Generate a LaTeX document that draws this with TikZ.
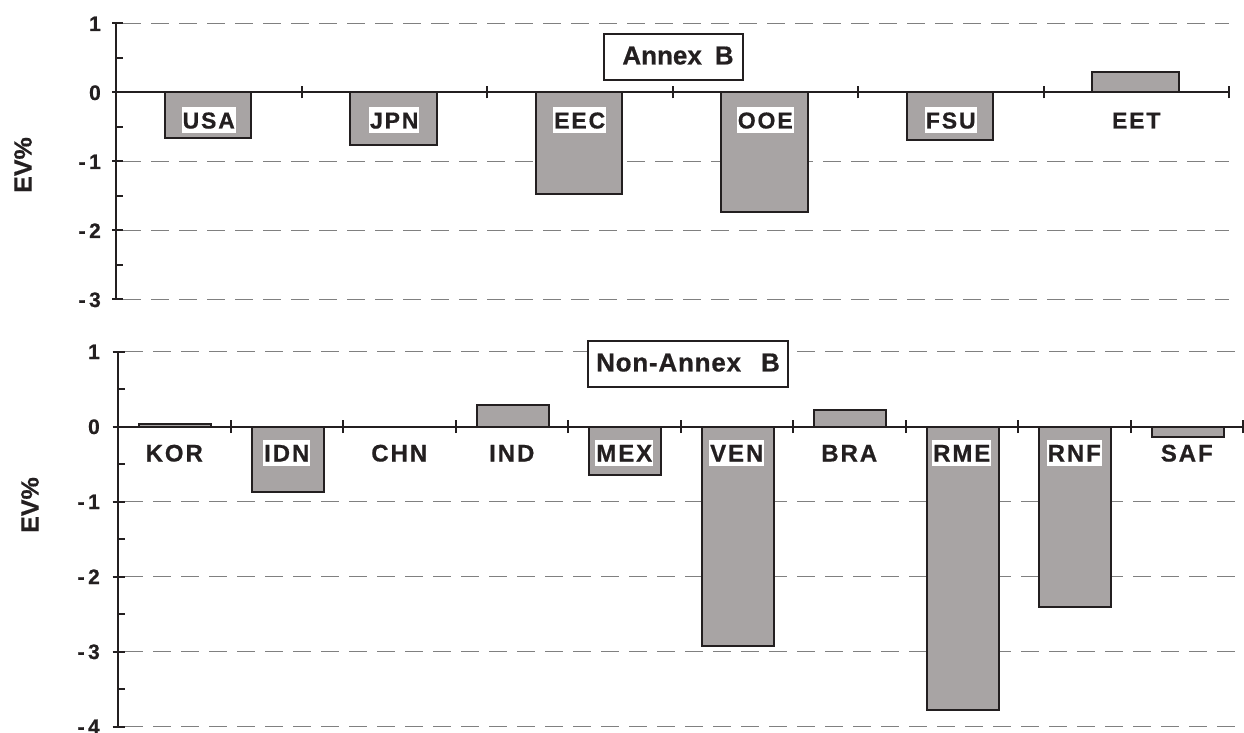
\documentclass[tikz,border=0pt]{standalone}
\usepackage{fontspec}
\setmainfont[BoldFeatures={FakeBold=0.6}]{Liberation Sans}
\newfontfamily\labfont[LetterSpace=8,BoldFeatures={FakeBold=0.6}]{Liberation Sans}
\newfontfamily\titfont[LetterSpace=3,BoldFeatures={FakeBold=0.6}]{Liberation Sans}
\definecolor{barfill}{HTML}{A8A4A4}
\definecolor{ink}{HTML}{231F20}
\definecolor{gridc}{HTML}{808080}
\tikzset{
  bar/.style={draw=ink, fill=barfill, line width=2pt},
  axisline/.style={draw=ink, line width=2pt},
  gridline/.style={draw=gridc, line width=1.5pt, dash pattern=on 18pt off 10pt},
  catlab/.style={fill=white, inner xsep=1pt, inner ysep=0pt, text height=21.5pt, text depth=4.5pt, text=ink},
  ticklab/.style={anchor=east, inner sep=0pt, text height=15pt, text depth=0pt, font=\bfseries\fontsize{21}{25}\selectfont, text=ink},
  evlab/.style={rotate=90, inner sep=0pt, font=\bfseries\fontsize{25}{30}\selectfont, text=ink},
  titlebox/.style={draw=ink, line width=1.2pt, fill=white, minimum height=46pt, inner sep=0pt, text depth=3pt, text=ink}
}
\begin{document}
\begin{tikzpicture}[x=1pt,y=1pt]
\useasboundingbox (0,0) rectangle (1244,732);
% ---------------- top panel: Annex B ----------------
\begin{scope}[shift={(116pt,639.5pt)}, x=185.5pt, y=69pt]
  \foreach \v in {1,-1,-2,-3}
    \draw[gridline] ([xshift=7pt]0,\v) -- (6,\v);
  \foreach \i/\v in {1/-0.655, 2/-0.76, 3/-1.475, 4/-1.73, 5/-0.69, 6/0.30}
    \draw[bar] (\i-1+0.264,0) rectangle (\i-1+0.728,\v);
  \draw[axisline] (0,1) -- (0,-3);
  \draw[axisline] (0,0) -- (6,0);
  \foreach \i in {1,...,6}
    \draw[axisline] ([yshift=-6pt]\i,0) -- ([yshift=6pt]\i,0);
  \foreach \v in {1,0,-1,-2,-3}
    \draw[axisline] ([xshift=-4pt]0,\v) -- ([xshift=7pt]0,\v);
  \foreach \v in {0.5,-0.5,-1.5,-2.5}
    \draw[axisline] (0,\v) -- ([xshift=7pt]0,\v);
  \foreach \i/\t in {1/USA, 2/JPN, 3/EEC, 4/OOE, 5/FSU, 6/EET}
    \node[catlab, font=\labfont\bfseries\fontsize{23}{26}\selectfont] (top\t) at ([yshift=-27.5pt]\i-0.5,0) {\t};
  \foreach \v/\t/\n in {1/1/a, 0/0/b, -1/{-\kern3.5pt1}/c, -2/{-\kern3.5pt2}/d, -3/{-\kern3.5pt3}/e}
    \node[ticklab] (ty\n) at ([xshift=-15pt]0,\v) {\t};
\end{scope}
\node[evlab] (evtop) at (23,567) {EV\%};
\node[titlebox, minimum width=139pt, font=\bfseries\fontsize{26}{30}\selectfont] (annex) at (673.5,675) {\hspace*{9pt}Annex\hspace{13pt}B};
% ---------------- bottom panel: Non-Annex B ----------------
\begin{scope}[shift={(118pt,305.5pt)}, x=112.5pt, y=75pt]
  \foreach \v in {1,-1,-2,-3,-4}
    \draw[gridline] ([xshift=7pt]0,\v) -- (10,\v);
  \foreach \i/\v in {1/0.04, 2/-0.87, 4/0.29, 5/-0.65, 6/-2.93, 7/0.22, 8/-3.78, 9/-2.41, 10/-0.14}
    \draw[bar] (\i-1+0.187,0) rectangle (\i-1+0.827,\v);
  \draw[axisline] (0,1) -- (0,-4);
  \draw[axisline] (0,0) -- (10,0);
  \foreach \i in {1,...,10}
    \draw[axisline] ([yshift=-6.5pt]\i,0) -- ([yshift=6.5pt]\i,0);
  \foreach \v in {1,0,-1,-2,-3,-4}
    \draw[axisline] ([xshift=-5.5pt]0,\v) -- ([xshift=7pt]0,\v);
  \foreach \v in {0.5,-0.5,-1.5,-2.5,-3.5}
    \draw[axisline] (0,\v) -- ([xshift=7pt]0,\v);
  \foreach \i/\t in {1/KOR, 2/IDN, 3/CHN, 4/IND, 5/MEX, 6/VEN, 7/BRA, 8/RME, 9/RNF, 10/SAF}
    \node[catlab, font=\labfont\bfseries\fontsize{24}{27}\selectfont] (bot\t) at ([yshift=-26.5pt]\i-0.5,0) {\t};
  \foreach \v/\t/\n in {1/1/a, 0/0/b, -1/{-\kern3.5pt1}/c, -2/{-\kern3.5pt2}/d, -3/{-\kern3.5pt3}/e, -4/{-\kern3.5pt4}/f}
    \node[ticklab] (by\n) at ([xshift=-18pt]0,\v) {\t};
\end{scope}
\node[evlab] (evbot) at (30,227) {EV\%};
\node[titlebox, minimum width=200pt, font=\titfont\bfseries\fontsize{26}{30}\selectfont] (nonannex) at (688,368) {Non-Annex\hspace{20pt}B};
\end{tikzpicture}
\end{document}
